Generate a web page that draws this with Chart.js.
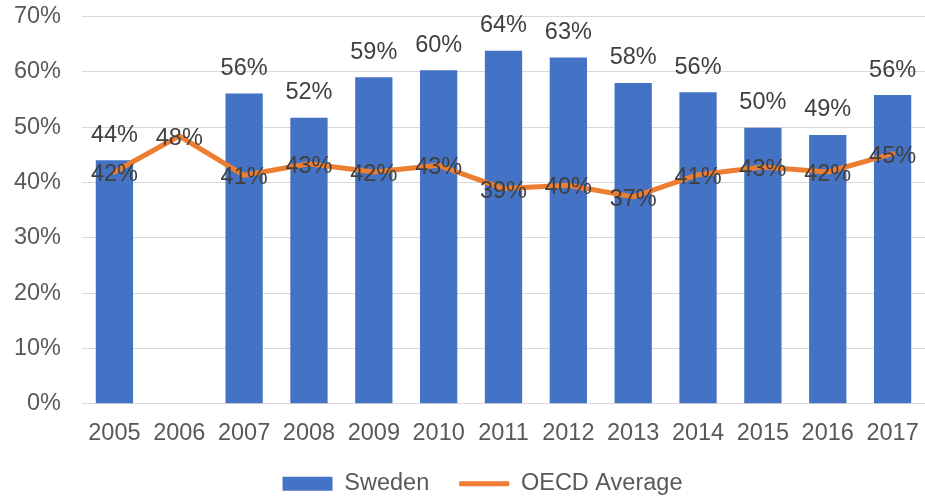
<!DOCTYPE html>
<html>
<head>
<meta charset="utf-8">
<script src="https://cdn.jsdelivr.net/npm/chart.js@4.4.1/dist/chart.umd.min.js"></script>
<style>
html,body{margin:0;padding:0;background:#fff;}
#wrap{width:925px;height:498px;position:relative;}
</style>
</head>
<body>
<div id="wrap"><canvas id="c"></canvas></div>
<script>
const years = ['2005','2006','2007','2008','2009','2010','2011','2012','2013','2014','2015','2016','2017'];
const sweden = [44.0, null, 56.1, 51.7, 59.0, 60.3, 63.8, 62.6, 58.0, 56.3, 49.9, 48.6, 55.8];
const oecd = [41.9, 48.4, 41.3, 43.4, 41.9, 43.1, 38.9, 39.5, 37.4, 41.4, 42.8, 41.9, 45.2];
const yTicks = [0, 10, 20, 30, 40, 50, 60, 70];

const FONT = 'Liberation Sans, Arial, sans-serif';
const FS = 23.5;
const BLUE = '#4472C4';
const ORANGE = '#ED7D31';

const labelPlugin = {
  id: 'valueLabels',
  afterDatasetsDraw(chart) {
    const ctx = chart.ctx;
    ctx.save();
    ctx.font = FS + 'px ' + FONT;
    ctx.fillStyle = '#404040';
    ctx.textAlign = 'center';
    ctx.textBaseline = 'middle';
    const barMeta = chart.getDatasetMeta(0);
    barMeta.data.forEach((el, i) => {
      const v = sweden[i];
      if (v == null) return;
      ctx.fillText(Math.round(v) + '%', el.x, el.y - 25);
    });
    const lineMeta = chart.getDatasetMeta(1);
    lineMeta.data.forEach((el, i) => {
      const v = oecd[i];
      if (v == null) return;
      ctx.fillText(Math.round(v) + '%', el.x, el.y + 2.5);
    });
    ctx.restore();
  }
};

const legendShift = {
  id: 'legendShift',
  afterLayout(chart) {
    if (chart.legend) chart.legend.left += 40;
  }
};

new Chart(document.getElementById('c'), {
  data: {
    labels: years,
    datasets: [
      {
        type: 'bar',
        label: 'Sweden',
        data: sweden,
        backgroundColor: BLUE,
        borderWidth: 0,
        barPercentage: 1,
        categoryPercentage: 0.575,
        order: 2
      },
      {
        type: 'line',
        label: 'OECD Average',
        data: oecd,
        borderColor: ORANGE,
        backgroundColor: ORANGE,
        borderWidth: 5,
        pointRadius: 0,
        tension: 0,
        borderCapStyle: 'round',
        borderJoinStyle: 'round',
        order: 1
      }
    ]
  },
  options: {
    responsive: true,
    maintainAspectRatio: false,
    animation: false,
    layout: { padding: { top: 16.5, right: 0, left: 0, bottom: -7.5 } },
    plugins: {
      tooltip: { enabled: false },
      legend: {
        position: 'bottom',
        labels: {
          font: { family: FONT, size: FS },
          color: '#595959',
          usePointStyle: true,
          pointStyleWidth: 50,
          boxHeight: 14,
          padding: 30,
          generateLabels(chart) {
            return [
              { text: 'Sweden', fillStyle: BLUE, strokeStyle: BLUE, lineWidth: 0, pointStyle: 'rect', datasetIndex: 0, hidden: false, fontColor: '#595959' },
              { text: 'OECD Average', fillStyle: ORANGE, strokeStyle: ORANGE, lineWidth: 5, pointStyle: 'line', datasetIndex: 1, hidden: false, fontColor: '#595959' }
            ];
          }
        }
      }
    },
    scales: {
      x: {
        afterFit(scale) { scale.paddingLeft = 0; scale.paddingRight = 0; scale.height = scale.height - 22; },
        grid: { display: false, drawTicks: false },
        border: { display: true, color: '#D9D9D9', width: 1 },
        ticks: { font: { family: FONT, size: FS }, color: '#595959', padding: 16, maxRotation: 0, autoSkip: false }
      },
      y: {
        min: 0,
        max: 70,
        afterFit(scale) { scale.width = 82; scale.paddingTop = 0; scale.paddingBottom = 0; },
        afterBuildTicks(scale) { scale.ticks = yTicks.map(v => ({ value: v })); },
        grid: { color: '#D9D9D9', lineWidth: 1, drawTicks: false },
        border: { display: false },
        ticks: { font: { family: FONT, size: FS }, color: '#595959', padding: 21, callback: v => v + '%' }
      }
    }
  },
  plugins: [labelPlugin, legendShift]
});
</script>
</body>
</html>
